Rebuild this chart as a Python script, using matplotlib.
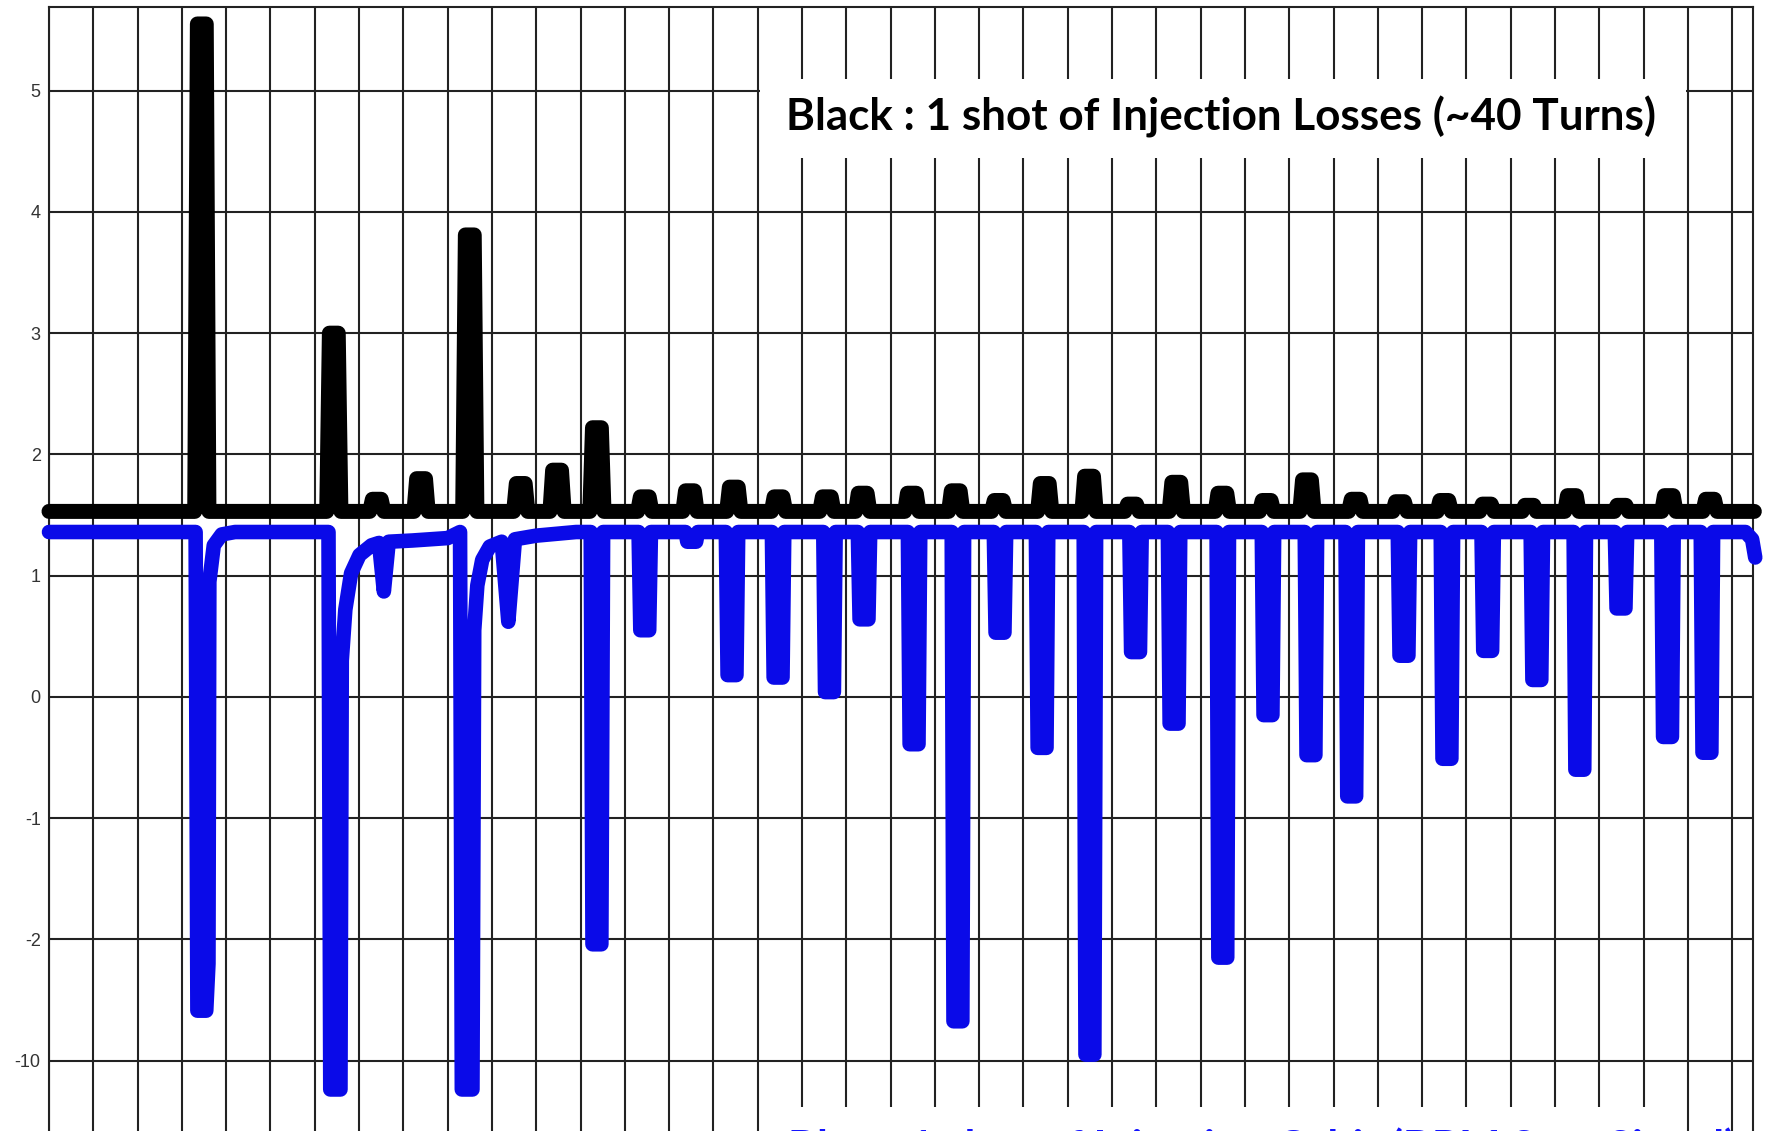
import matplotlib
matplotlib.use('Agg')
import matplotlib.pyplot as plt
from matplotlib.patches import Rectangle
import numpy as np

W, H = 1766, 1131

# Black trace: beam loss monitor, one burst per turn (turn, peak height)
loss_base = 1.53
loss_turn = [3.45, 6.43, 7.40, 8.40, 9.50, 10.65, 11.47, 12.37, 13.45, 14.47,
             15.46, 16.47, 17.56, 18.37, 19.48, 20.47, 21.44, 22.48, 23.48, 24.45,
             25.45, 26.49, 27.49, 28.40, 29.50, 30.50, 31.50, 32.46, 33.42, 34.38,
             35.50, 36.57, 37.50]
loss_peak = [5.55, 3.00, 1.63, 1.80, 3.81, 1.76, 1.87, 2.22, 1.65, 1.70,
             1.73, 1.65, 1.65, 1.68, 1.68, 1.70, 1.62, 1.76, 1.82, 1.59,
             1.77, 1.68, 1.62, 1.79, 1.63, 1.61, 1.62, 1.59, 1.58, 1.66,
             1.58, 1.66, 1.63]

# Blue trace: pick-up signal, one dip per turn (turn, lowest value)
orbit_base = 1.36
dip_turn = [3.45, 6.45, 9.42, 12.37, 13.45, 14.51, 15.42, 16.46, 17.62, 18.40,
            19.53, 20.52, 21.47, 22.42, 23.50, 24.53, 25.40, 26.50, 27.52, 28.49,
            29.41, 30.59, 31.56, 32.48, 33.59, 34.56, 35.49, 36.54, 37.43]
dip_floor = [-6.7, -11.9, -11.9, -2.32, 0.55, 1.28, 0.18, 0.16, 0.04, 0.64,
             -0.39, -7.4, 0.53, -0.42, -9.6, 0.37, -0.22, -3.2, -0.15, -0.48,
             -0.82, 0.34, -0.51, 0.38, 0.14, -0.60, 0.73, -0.33, -0.46]

# slow return to the baseline after the first three dips
recover_1_turn = [3.60, 3.62, 3.72, 3.90, 4.20]
recover_1_val = [-3.6, 0.95, 1.25, 1.34, 1.36]
recover_2_turn = [6.58, 6.61, 6.69, 6.82, 7.01, 7.28, 7.45, 7.56, 7.67, 8.20, 9.00]
recover_2_val = [-11.9, 0.30, 0.72, 1.02, 1.17, 1.25, 1.27, 0.87, 1.28, 1.29, 1.31]
recover_3_turn = [9.56, 9.60, 9.67, 9.78, 9.95, 10.22, 10.37, 10.52, 11.00, 11.90]
recover_3_val = [-11.9, 0.55, 0.92, 1.13, 1.24, 1.28, 0.62, 1.30, 1.33, 1.36]
recovery = {0: (recover_1_turn, recover_1_val),
            1: (recover_2_turn, recover_2_val),
            2: (recover_3_turn, recover_3_val)}

tick_vals = [5, 4, 3, 2, 1, 0, -1, -2, -10]
tick_text = ['5', '4', '3', '2', '1', '0', '-1', '-2', '-10']

top_note = 'Black : 1 shot of Injection Losses (~40 Turns)'
bottom_note = 'Blue : 1 shot of Injection Orbit (BPM Sum Signal)'


# axis is linear down to -2, then squeezed 8:1 below
def fwd(v):
    v = np.asarray(v, dtype=float)
    return np.where(v >= -2, v, -2 + (v + 2) / 8.0)


def inv(p):
    p = np.asarray(p, dtype=float)
    return np.where(p >= -2, p, -2 + (p + 2) * 8.0)


def loss_path():
    xs, ys = [0.0], [loss_base]
    for t, p in zip(loss_turn, loss_peak):
        xs += [t - 0.16, t - 0.10, t + 0.10, t + 0.16]
        ys += [loss_base, p, p, loss_base]
    xs.append(38.50)
    ys.append(loss_base)
    return xs, ys


def orbit_path():
    xs, ys = [0.0], [orbit_base]
    for i, (t, f) in enumerate(zip(dip_turn, dip_floor)):
        xs += [t - 0.14, t - 0.10, t + 0.10]
        ys += [orbit_base, f, f]
        if i in recovery:
            xs += recovery[i][0]
            ys += recovery[i][1]
        else:
            xs.append(t + 0.14)
            ys.append(orbit_base)
    xs += [38.30, 38.45, 38.52]
    ys += [orbit_base, 1.30, 1.15]
    return xs, ys


fig = plt.figure(figsize=(W / 100, H / 100), dpi=100)
fig.patch.set_facecolor('white')
ax = fig.add_axes([49 / W, 0, (1753 - 49) / W, 1 - 7 / H])
ax.set_yscale('function', functions=(fwd, inv))

grid_col = '#222222'
ax.set_xlim(0, 38.47)
ax.set_ylim(-14.64, 5.69)
ax.set_xticks(np.arange(0, 39))
ax.set_xticklabels([])
ax.set_yticks(tick_vals)
ax.set_yticklabels(tick_text, family='Liberation Sans', fontsize=13, color='#333333')
ax.yaxis.set_minor_locator(matplotlib.ticker.NullLocator())
ax.tick_params(length=0, pad=6)
ax.grid(True, color=grid_col, lw=1.5)
for side in ['left', 'right', 'top']:
    ax.spines[side].set_color(grid_col)
    ax.spines[side].set_linewidth(1.5)
ax.spines['bottom'].set_visible(False)

lx, ly = loss_path()
ax.plot(lx, ly, color='black', lw=10.8, solid_joinstyle='round',
        solid_capstyle='round', clip_on=False, zorder=3)
ox, oy = orbit_path()
ax.plot(ox, oy, color='#0a0ae8', lw=10.5, solid_joinstyle='round',
        solid_capstyle='round', clip_on=False, zorder=4)

# white note panels over the grid
for y0, y1 in [(79, 158), (1107, 1140)]:
    fig.add_artist(Rectangle((760 / W, 1 - y1 / H), (1686 - 760) / W, (y1 - y0) / H,
                             transform=fig.transFigure, facecolor='white',
                             edgecolor='none', zorder=5))

note_font = dict(family='Lato', fontweight='bold', zorder=6)
txt = fig.text(786 / W, 1 - 131 / H, top_note, fontsize=30, ha='left',
               va='baseline', **note_font)
fig.canvas.draw()
size = 30 * 870 / txt.get_window_extent().width
txt.set_fontsize(size)

fig.text(788 / W, 1 - (1130 + 0.74 * size * 100 / 72) / H, bottom_note,
         fontsize=size, ha='left', va='baseline', color='#1414ff', **note_font)

fig.savefig('out.png', dpi=100, facecolor='white')
